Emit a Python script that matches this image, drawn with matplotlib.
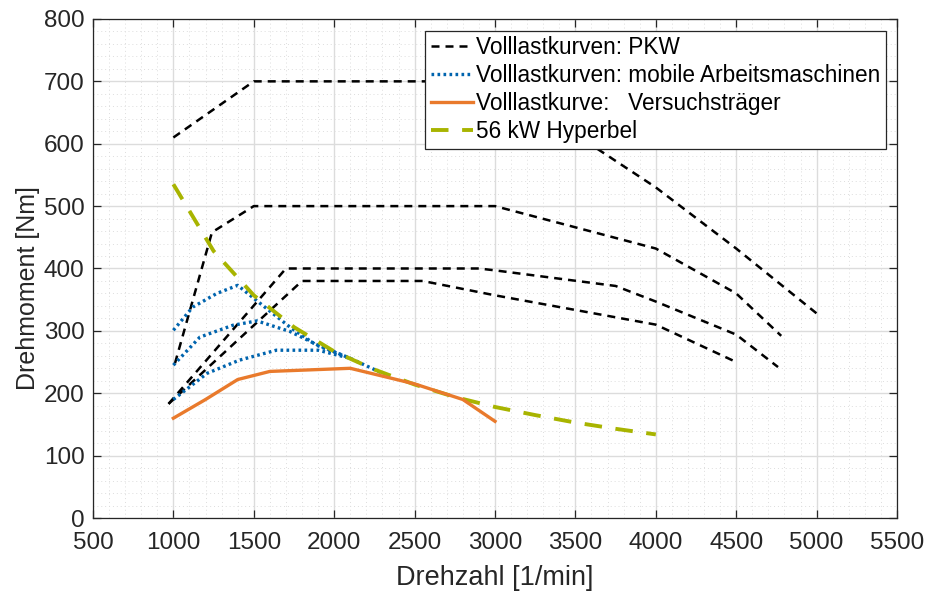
import numpy as np
import matplotlib
matplotlib.use('Agg')
import matplotlib.pyplot as plt
from matplotlib.ticker import MultipleLocator

plt.rcParams['font.family'] = ['Liberation Sans', 'DejaVu Sans']

# PKW full load curves (black dashed)
pkw_n = [
    [1000, 1500, 3000, 4000, 4500, 5000],
    [1010, 1240, 1500, 3000, 4000, 4500, 4780],
    [970, 1700, 2900, 3000, 3750, 4000, 4500, 4760],
    [970, 1800, 2550, 3000, 4000, 4500],
]
pkw_t = [
    [610, 700, 700, 530, 432, 328],
    [248, 458, 500, 500, 432, 360, 292],
    [183, 400, 400, 397, 372, 347, 294, 242],
    [183, 380, 380, 357, 310, 250],
]

# mobile machines (blue dotted)
mobil_n = [
    [1000, 1120, 1270, 1400, 1540, 1725, 1890, 2100, 2300],
    [1000, 1165, 1370, 1520, 1725, 1900, 2100],
    [1000, 1210, 1410, 1640, 1900, 2100],
]
mobil_t = [
    [301, 338, 360, 373, 344, 306, 277, 256, 232],
    [245, 290, 309, 316, 299, 277, 256],
    [190, 232, 253, 269, 269, 256],
]

# test engine
vt_n = [1000, 1200, 1400, 1600, 2100, 2500, 2800, 3000]
vt_t = [160, 190, 222, 235, 240, 215, 190, 155]

# 56 kW hyperbola
hyp_n = [1000, 1250, 1500, 1750, 2000, 2250, 2500, 2750, 3000, 3250, 3500, 3750, 4000]
hyp_t = [535, 428, 357, 306, 267, 238, 214, 194, 178, 165, 153, 143, 134]

fig = plt.figure(figsize=(9.26, 5.91), dpi=100)
ax = fig.add_axes([0.1004, 0.1235, 0.8683, 0.8444])

for i, (n, t) in enumerate(zip(pkw_n, pkw_t)):
    ax.plot(n, t, color='black', lw=1.8, ls=(0, (3.2, 2.4)),
            label='Volllastkurven: PKW' if i == 0 else None, zorder=3)
for i, (n, t) in enumerate(zip(mobil_n, mobil_t)):
    ax.plot(n, t, color='#0064AE', lw=2.4, ls=(0, (0.8, 1.0)),
            label='Volllastkurven: mobile Arbeitsmaschinen' if i == 0 else None, zorder=4)
ax.plot(vt_n, vt_t, color='#E97A2C', lw=2.4, label='Volllastkurve:   Versuchsträger', zorder=5)
ax.plot(hyp_n, hyp_t, color='#A8B400', lw=2.8, ls=(0, (4.5, 3.5)), label='56 kW Hyperbel', zorder=4)

ax.set_xlim(500, 5500)
ax.set_ylim(0, 800)
ax.xaxis.set_major_locator(MultipleLocator(500))
ax.xaxis.set_minor_locator(MultipleLocator(100))
ax.yaxis.set_major_locator(MultipleLocator(100))
ax.yaxis.set_minor_locator(MultipleLocator(20))
ax.grid(which='major', color='#dcdcdc', lw=1.0, zorder=0)
ax.grid(which='minor', color='#dddddd', lw=0.7, ls=(0, (1, 3)), zorder=0)
ax.set_axisbelow(True)
ax.tick_params(which='major', direction='in', length=6, width=0.9, top=True, right=True,
               labelsize=17.5, colors='#262626', pad=6)
ax.tick_params(axis='x', which='major', pad=10)
ax.tick_params(which='minor', length=0, top=True, right=True)
for sp in ax.spines.values():
    sp.set_color('#262626')
    sp.set_linewidth(0.9)

ax.set_xlabel('Drehzahl [1/min]', fontsize=19.5, color='#262626')
ax.set_ylabel('Drehmoment [Nm]', fontsize=18, color='#262626')
ax.xaxis.set_label_coords(0.5, -0.094)
ax.yaxis.set_label_coords(-0.066, 0.46)

leg = ax.legend(loc='upper right', bbox_to_anchor=(0.986, 0.976), fontsize=16.3,
                frameon=True, fancybox=False, framealpha=1, edgecolor='#262626',
                handlelength=1.85, handletextpad=0.15, borderpad=0.24, labelspacing=0.22,
                borderaxespad=0)
leg.get_frame().set_linewidth(0.9)

fig.savefig('out.png', dpi=100)
